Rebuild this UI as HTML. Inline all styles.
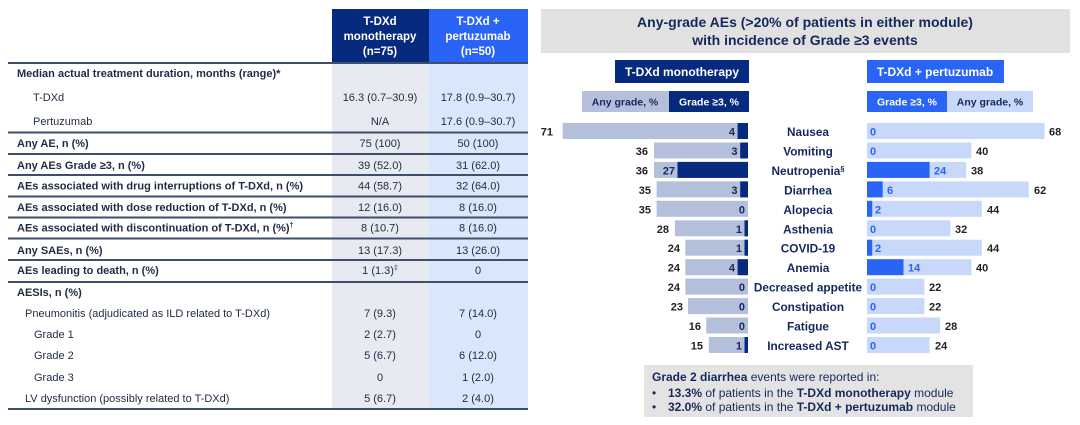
<!DOCTYPE html>
<html><head><meta charset="utf-8"><style>
html,body{margin:0;padding:0;background:#fff;}
svg{display:block;font-family:"Liberation Sans",Arial,sans-serif;}
.t{font-size:11px;fill:#1f2a44;}
.b{font-weight:bold;}
.c{text-anchor:middle;}
.e{text-anchor:end;}
.lab{font-size:11.8px;font-weight:bold;fill:#14285c;text-anchor:middle;}
.n{font-size:11px;font-weight:bold;fill:#222;}
.nb{font-size:11px;font-weight:bold;fill:#2a64f6;}
.nd{font-size:11px;font-weight:bold;fill:#14285c;}
</style></head><body>
<svg width="1080" height="425" viewBox="0 0 1080 425" xmlns="http://www.w3.org/2000/svg">
<!-- TABLE -->
<rect x="332" y="63" width="97" height="346" fill="#e7eaf1"/>
<rect x="429" y="63" width="99" height="346" fill="#d9e6fb"/>
<rect x="332" y="9" width="97" height="54" fill="#062a7e"/>
<rect x="429" y="9" width="99" height="54" fill="#2a64f6"/>
<g fill="#fff" font-size="11.5" font-weight="bold" text-anchor="middle">
<text x="380" y="25">T-DXd</text><text x="380" y="40">monotherapy</text><text x="380" y="55">(n=75)</text>
<text x="478" y="25">T-DXd +</text><text x="478" y="40">pertuzumab</text><text x="478" y="55">(n=50)</text>
</g>
<g stroke="#3e4f6c" stroke-width="2">
<line x1="8" y1="63" x2="528" y2="63"/>
<line x1="8" y1="132.5" x2="528" y2="132.5"/>
<line x1="8" y1="154" x2="528" y2="154"/>
<line x1="8" y1="175" x2="528" y2="175"/>
<line x1="8" y1="196.5" x2="528" y2="196.5"/>
<line x1="8" y1="217.5" x2="528" y2="217.5"/>
<line x1="8" y1="238.5" x2="528" y2="238.5"/>
<line x1="8" y1="260" x2="528" y2="260"/>
<line x1="8" y1="282" x2="528" y2="282"/>
<line x1="8" y1="409" x2="528" y2="409"/>
</g>
<g class="t">
<text x="17" y="77" class="b">Median actual treatment duration, months (range)*</text>
<text x="33" y="101">T-DXd</text><text x="380" y="101" class="c">16.3 (0.7–30.9)</text><text x="478" y="101" class="c">17.8 (0.9–30.7)</text>
<text x="33" y="125">Pertuzumab</text><text x="380" y="125" class="c">N/A</text><text x="478" y="125" class="c">17.6 (0.9–30.7)</text>
<text x="17" y="147" class="b">Any AE, n (%)</text><text x="380" y="147" class="c">75 (100)</text><text x="478" y="147" class="c">50 (100)</text>
<text x="17" y="169" class="b">Any AEs Grade ≥3, n (%)</text><text x="380" y="169" class="c">39 (52.0)</text><text x="478" y="169" class="c">31 (62.0)</text>
<text x="17" y="189.5" class="b">AEs associated with drug interruptions of T-DXd, n (%)</text><text x="380" y="189.5" class="c">44 (58.7)</text><text x="478" y="189.5" class="c">32 (64.0)</text>
<text x="17" y="211" class="b">AEs associated with dose reduction of T-DXd, n (%)</text><text x="380" y="211" class="c">12 (16.0)</text><text x="478" y="211" class="c">8 (16.0)</text>
<text x="17" y="231.5" class="b">AEs associated with discontinuation of T-DXd, n (%)<tspan font-size="7" dy="-4">†</tspan></text><text x="380" y="231.5" class="c">8 (10.7)</text><text x="478" y="231.5" class="c">8 (16.0)</text>
<text x="17" y="254" class="b">Any SAEs, n (%)</text><text x="380" y="254" class="c">13 (17.3)</text><text x="478" y="254" class="c">13 (26.0)</text>
<text x="17" y="274" class="b">AEs leading to death, n (%)</text><text x="380" y="274" class="c">1 (1.3)<tspan font-size="7" dy="-4">‡</tspan></text><text x="478" y="274" class="c">0</text>
<text x="17" y="296" class="b">AESIs, n (%)</text>
<text x="25" y="317">Pneumonitis  (adjudicated as ILD related to T-DXd)</text><text x="380" y="317" class="c">7 (9.3)</text><text x="478" y="317" class="c">7 (14.0)</text>
<text x="34" y="338">Grade 1</text><text x="380" y="338" class="c">2 (2.7)</text><text x="478" y="338" class="c">0</text>
<text x="34" y="359">Grade 2</text><text x="380" y="359" class="c">5 (6.7)</text><text x="478" y="359" class="c">6 (12.0)</text>
<text x="34" y="381">Grade 3</text><text x="380" y="381" class="c">0</text><text x="478" y="381" class="c">1 (2.0)</text>
<text x="25" y="402">LV dysfunction  (possibly related to T-DXd)</text><text x="380" y="402" class="c">5 (6.7)</text><text x="478" y="402" class="c">2 (4.0)</text>
</g>

<!-- CHART -->
<rect x="541" y="9" width="529" height="44" fill="#e1e1e1"/>
<g font-size="14" font-weight="bold" fill="#14285c" text-anchor="middle">
<text x="805" y="27">Any-grade AEs (&gt;20% of patients in either module)</text>
<text x="805" y="45">with incidence of Grade ≥3 events</text>
</g>
<rect x="615" y="60" width="134" height="23" fill="#062a7e"/>
<text x="682" y="76" fill="#fff" font-size="12" font-weight="bold" text-anchor="middle">T-DXd monotherapy</text>
<rect x="867" y="60" width="137" height="23" fill="#2a64f6"/>
<text x="935" y="76" fill="#fff" font-size="12" font-weight="bold" text-anchor="middle">T-DXd + pertuzumab</text>
<rect x="582" y="91" width="87" height="21" fill="#b4bfdb"/>
<rect x="669" y="91" width="80" height="21" fill="#062a7e"/>
<text x="625" y="105.5" font-size="10.5" font-weight="bold" fill="#14285c" text-anchor="middle">Any grade, %</text>
<text x="709" y="105.5" font-size="10.5" font-weight="bold" fill="#fff" text-anchor="middle">Grade ≥3, %</text>
<rect x="867" y="91" width="80" height="21" fill="#2a64f6"/>
<rect x="947" y="91" width="86" height="21" fill="#c7d8fb"/>
<text x="907" y="105.5" font-size="10.5" font-weight="bold" fill="#fff" text-anchor="middle">Grade ≥3, %</text>
<text x="990" y="105.5" font-size="10.5" font-weight="bold" fill="#14285c" text-anchor="middle">Any grade, %</text>

<!-- left bars -->
<g fill="#b4bfdb">
<rect x="562.7" y="123" width="185.3" height="16"/>
<rect x="654" y="142.5" width="94" height="16"/>
<rect x="654" y="161.9" width="94" height="16"/>
<rect x="656.6" y="181.4" width="91.4" height="16"/>
<rect x="656.6" y="200.8" width="91.4" height="16"/>
<rect x="674.9" y="220.3" width="73.1" height="16"/>
<rect x="685.4" y="239.7" width="62.6" height="16"/>
<rect x="685.4" y="259.2" width="62.6" height="16"/>
<rect x="685.4" y="278.6" width="62.6" height="16"/>
<rect x="688" y="298.1" width="60" height="16"/>
<rect x="706.2" y="317.5" width="41.8" height="16"/>
<rect x="708.8" y="337" width="39.2" height="16"/>
</g>
<g fill="#062a7e">
<rect x="737.6" y="123" width="10.4" height="16"/>
<rect x="740.2" y="142.5" width="7.8" height="16"/>
<rect x="677.5" y="161.9" width="70.5" height="16"/>
<rect x="740.2" y="181.4" width="7.8" height="16"/>
<rect x="744.5" y="220.3" width="3.5" height="16"/>
<rect x="744.5" y="239.7" width="3.5" height="16"/>
<rect x="737.6" y="259.2" width="10.4" height="16"/>
<rect x="744.5" y="337" width="3.5" height="16"/>
</g>
<g class="n" text-anchor="end">
<text x="553" y="135.5">71</text>
<text x="648" y="155">36</text>
<text x="648" y="174.4">36</text>
<text x="651" y="193.9">35</text>
<text x="651" y="213.3">35</text>
<text x="669" y="232.8">28</text>
<text x="680" y="252.2">24</text>
<text x="680" y="271.7">24</text>
<text x="680" y="291.1">24</text>
<text x="683" y="310.6">23</text>
<text x="701" y="330">16</text>
<text x="703" y="349.5">15</text>
</g>
<g class="nd" text-anchor="end">
<text x="735" y="135.5">4</text>
<text x="737.5" y="155">3</text>
<text x="675" y="174.4">27</text>
<text x="737.5" y="193.9">3</text>
<text x="745" y="213.3">0</text>
<text x="742" y="232.8">1</text>
<text x="742" y="252.2">1</text>
<text x="735" y="271.7">4</text>
<text x="745" y="291.1">0</text>
<text x="745" y="310.6">0</text>
<text x="745" y="330">0</text>
<text x="742" y="349.5">1</text>
</g>
<!-- labels -->
<g class="lab">
<text x="808" y="136">Nausea</text>
<text x="808" y="155.5">Vomiting</text>
<text x="808" y="175">Neutropenia<tspan font-size="7.5" dy="-4">§</tspan></text>
<text x="808" y="194.4">Diarrhea</text>
<text x="808" y="213.8">Alopecia</text>
<text x="808" y="233.3">Asthenia</text>
<text x="808" y="252.7">COVID-19</text>
<text x="808" y="272.2">Anemia</text>
<text x="808" y="291.6">Decreased appetite</text>
<text x="808" y="311.1">Constipation</text>
<text x="808" y="330.5">Fatigue</text>
<text x="808" y="350">Increased AST</text>
</g>
<!-- right bars -->
<g fill="#c7d8fb">
<rect x="867" y="123" width="177.5" height="16"/>
<rect x="867" y="142.5" width="104.4" height="16"/>
<rect x="867" y="161.9" width="99.2" height="16"/>
<rect x="867" y="181.4" width="161.8" height="16"/>
<rect x="867" y="200.8" width="114.8" height="16"/>
<rect x="867" y="220.3" width="83.5" height="16"/>
<rect x="867" y="239.7" width="114.8" height="16"/>
<rect x="867" y="259.2" width="104.4" height="16"/>
<rect x="867" y="278.6" width="57.4" height="16"/>
<rect x="867" y="298.1" width="57.4" height="16"/>
<rect x="867" y="317.5" width="73.1" height="16"/>
<rect x="867" y="337" width="62.6" height="16"/>
</g>
<g fill="#2a64f6">
<rect x="867" y="161.9" width="62.6" height="16"/>
<rect x="867" y="181.4" width="15.7" height="16"/>
<rect x="867" y="200.8" width="5.2" height="16"/>
<rect x="867" y="239.7" width="5.2" height="16"/>
<rect x="867" y="259.2" width="36.5" height="16"/>
</g>
<g class="nb">
<text x="870" y="135.5">0</text>
<text x="870" y="155">0</text>
<text x="934" y="174.4">24</text>
<text x="887" y="193.9">6</text>
<text x="875" y="213.3">2</text>
<text x="870" y="232.8">0</text>
<text x="875" y="252.2">2</text>
<text x="908" y="271.7">14</text>
<text x="870" y="291.1">0</text>
<text x="870" y="310.6">0</text>
<text x="870" y="330">0</text>
<text x="870" y="349.5">0</text>
</g>
<g class="n">
<text x="1049" y="135.5">68</text>
<text x="976" y="155">40</text>
<text x="971" y="174.4">38</text>
<text x="1034" y="193.9">62</text>
<text x="987" y="213.3">44</text>
<text x="955" y="232.8">32</text>
<text x="987" y="252.2">44</text>
<text x="976" y="271.7">40</text>
<text x="929" y="291.1">22</text>
<text x="929" y="310.6">22</text>
<text x="945" y="330">28</text>
<text x="935" y="349.5">24</text>
</g>
<!-- footnote -->
<rect x="644" y="365" width="329" height="52" fill="#e3e3e3"/>
<g font-size="12" fill="#14285c">
<text x="652" y="381"><tspan font-weight="bold">Grade 2 diarrhea</tspan> events were reported in:</text>
<text x="652" y="397">•</text>
<text x="668" y="397"><tspan font-weight="bold">13.3%</tspan> of patients in the <tspan font-weight="bold">T-DXd monotherapy</tspan> module</text>
<text x="652" y="411">•</text>
<text x="668" y="411"><tspan font-weight="bold">32.0%</tspan> of patients in the <tspan font-weight="bold">T-DXd + pertuzumab</tspan> module</text>
</g>
</svg>
</body></html>
